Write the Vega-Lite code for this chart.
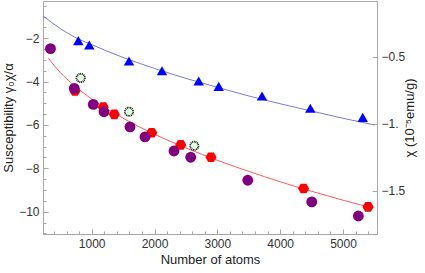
{
  "$schema": "https://vega.github.io/schema/vega-lite/v6.json",
  "width": 334,
  "height": 233,
  "autosize": {"type": "none"},
  "padding": {"left": 43, "top": 1, "right": 48, "bottom": 39},
  "background": "white",
  "config": {
    "view": {"stroke": "#a6a6a6", "strokeWidth": 1},
    "font": "Liberation Sans",
    "axis": {
      "grid": false,
      "domainColor": "#a6a6a6",
      "tickColor": "#a6a6a6",
      "labelColor": "#333333",
      "labelFontSize": 12,
      "labelFont": "Liberation Sans",
      "titleFont": "Liberation Sans",
      "titleFontSize": 13,
      "titleFontWeight": "normal",
      "titleColor": "#222222"
    }
  },
  "datasets": {
    "markers": [
      {"series": "purple", "n": 344, "v": -2.48},
      {"series": "purple", "n": 723, "v": -4.31},
      {"series": "purple", "n": 1025, "v": -5.05},
      {"series": "purple", "n": 1196, "v": -5.39},
      {"series": "purple", "n": 1610, "v": -6.09},
      {"series": "purple", "n": 1849, "v": -6.55},
      {"series": "purple", "n": 2310, "v": -7.2},
      {"series": "purple", "n": 2576, "v": -7.49},
      {"series": "purple", "n": 3484, "v": -8.55},
      {"series": "purple", "n": 4502, "v": -9.55},
      {"series": "purple", "n": 5244, "v": -10.2},
      {"series": "red", "n": 734, "v": -4.43},
      {"series": "red", "n": 1185, "v": -5.18},
      {"series": "red", "n": 1360, "v": -5.51},
      {"series": "red", "n": 1955, "v": -6.36},
      {"series": "red", "n": 2417, "v": -6.92},
      {"series": "red", "n": 2899, "v": -7.49},
      {"series": "red", "n": 4372, "v": -8.93},
      {"series": "red", "n": 5399, "v": -9.78},
      {"series": "green", "n": 825, "v": -3.83},
      {"series": "green", "n": 1594, "v": -5.39},
      {"series": "green", "n": 2633, "v": -6.96},
      {"series": "blue", "n": 787, "v": -2.11},
      {"series": "blue", "n": 962, "v": -2.31},
      {"series": "blue", "n": 1594, "v": -3.05},
      {"series": "blue", "n": 2119, "v": -3.5},
      {"series": "blue", "n": 2703, "v": -3.97},
      {"series": "blue", "n": 3022, "v": -4.22},
      {"series": "blue", "n": 3711, "v": -4.66},
      {"series": "blue", "n": 4480, "v": -5.23},
      {"series": "blue", "n": 5314, "v": -5.65}
    ],
    "fits": [
      {"series": "blue", "n": 225, "v": -0.97},
      {"series": "blue", "n": 500, "v": -1.55},
      {"series": "blue", "n": 800, "v": -2.05},
      {"series": "blue", "n": 1000, "v": -2.29},
      {"series": "blue", "n": 1200, "v": -2.54},
      {"series": "blue", "n": 1600, "v": -2.99},
      {"series": "blue", "n": 2000, "v": -3.39},
      {"series": "blue", "n": 2500, "v": -3.85},
      {"series": "blue", "n": 3000, "v": -4.26},
      {"series": "blue", "n": 3500, "v": -4.66},
      {"series": "blue", "n": 4000, "v": -5.02},
      {"series": "blue", "n": 4500, "v": -5.36},
      {"series": "blue", "n": 5000, "v": -5.69},
      {"series": "blue", "n": 5500, "v": -6.0},
      {"series": "red", "n": 309, "v": -2.92},
      {"series": "red", "n": 500, "v": -3.58},
      {"series": "red", "n": 750, "v": -4.25},
      {"series": "red", "n": 1000, "v": -4.8},
      {"series": "red", "n": 1200, "v": -5.18},
      {"series": "red", "n": 1500, "v": -5.69},
      {"series": "red", "n": 2000, "v": -6.43},
      {"series": "red", "n": 2500, "v": -7.06},
      {"series": "red", "n": 3000, "v": -7.63},
      {"series": "red", "n": 3500, "v": -8.14},
      {"series": "red", "n": 4000, "v": -8.62},
      {"series": "red", "n": 4500, "v": -9.06},
      {"series": "red", "n": 5000, "v": -9.47},
      {"series": "red", "n": 5400, "v": -9.78}
    ],
    "rightaxis": [
      {"chi": -0.5},
      {"chi": -1.5}
    ]
  },
  "layer": [
    {
      "encoding": {
        "x": {
          "field": "n",
          "type": "quantitative",
          "scale": {"domain": [225, 5541], "nice": false, "zero": false},
          "axis": {
            "title": "Number of atoms",
            "format": "d",
            "values": [400, 600, 800, 1000, 1200, 1400, 1600, 1800, 2000, 2200, 2400, 2600, 2800, 3000, 3200, 3400, 3600, 3800, 4000, 4200, 4400, 4600, 4800, 5000, 5200, 5400],
            "labelExpr": "datum.value % 1000 === 0 ? datum.label : ''",
            "tickSize": {"condition": {"test": "datum.value % 1000 === 0", "value": -5}, "value": -3},
            "labelPadding": 9,
            "titlePadding": 4
          }
        },
        "y": {
          "field": "v",
          "type": "quantitative",
          "scale": {"domain": [-11.03, -0.28], "nice": false, "zero": false},
          "axis": {
            "title": "Susceptibility γ₀χ/α",
            "values": [-11, -10.5, -10, -9.5, -9, -8.5, -8, -7.5, -7, -6.5, -6, -5.5, -5, -4.5, -4, -3.5, -3, -2.5, -2, -1.5, -1, -0.5],
            "labelExpr": "datum.value % 2 === 0 ? format(datum.value, 'd') : ''",
            "tickSize": {"condition": {"test": "datum.value % 2 === 0", "value": -5}, "value": -3},
            "labelPadding": 9,
            "titlePadding": 3
          }
        }
      },
      "layer": [
        {
          "data": {"name": "fits"},
          "transform": [{"filter": "datum.series === 'blue'"}],
          "mark": {"type": "line", "color": "#7b7bd8", "strokeWidth": 1, "interpolate": "monotone", "clip": true}
        },
        {
          "data": {"name": "fits"},
          "transform": [{"filter": "datum.series === 'red'"}],
          "mark": {"type": "line", "color": "#ff5a5a", "strokeWidth": 1, "interpolate": "monotone", "clip": true}
        },
        {
          "data": {"name": "markers"},
          "transform": [{"filter": "datum.series === 'red'"}],
          "mark": {"type": "point", "shape": "M-1,0L-0.5,-0.866L0.5,-0.866L1,0L0.5,0.866L-0.5,0.866Z", "filled": true, "color": "#ff0000", "size": 125, "opacity": 1}
        },
        {
          "data": {"name": "markers"},
          "transform": [{"filter": "datum.series === 'purple'"}],
          "mark": {"type": "point", "shape": "circle", "filled": true, "color": "#800080", "size": 118, "opacity": 1}
        },
        {
          "data": {"name": "markers"},
          "transform": [{"filter": "datum.series === 'green'"}],
          "mark": {"type": "point", "shape": "circle", "filled": true, "fill": "#e4fae4", "stroke": "#102010", "strokeWidth": 1.8, "strokeDash": [1, 0.7], "size": 70, "opacity": 1}
        },
        {
          "data": {"name": "markers"},
          "transform": [{"filter": "datum.series === 'blue'"}],
          "mark": {"type": "point", "shape": "triangle-up", "filled": true, "color": "#0000ff", "size": 110, "opacity": 1}
        }
      ]
    },
    {
      "data": {"name": "rightaxis"},
      "mark": {"type": "point", "opacity": 0},
      "encoding": {
        "y": {
          "field": "chi",
          "type": "quantitative",
          "scale": {"domain": [-1.825, -0.082], "nice": false, "zero": false},
          "axis": {
            "orient": "right",
            "title": "χ (10⁻⁵emu/g)",
            "titleAngle": -90,
            "titleBaseline": "bottom",
            "values": [-1.5, -1, -0.5],
            "labelExpr": "datum.value === -1 ? '−1.' : format(datum.value, '.1f')",
            "tickSize": -5,
            "labelPadding": 9,
            "titlePadding": 12
          }
        }
      }
    }
  ],
  "resolve": {"scale": {"y": "independent"}}
}
